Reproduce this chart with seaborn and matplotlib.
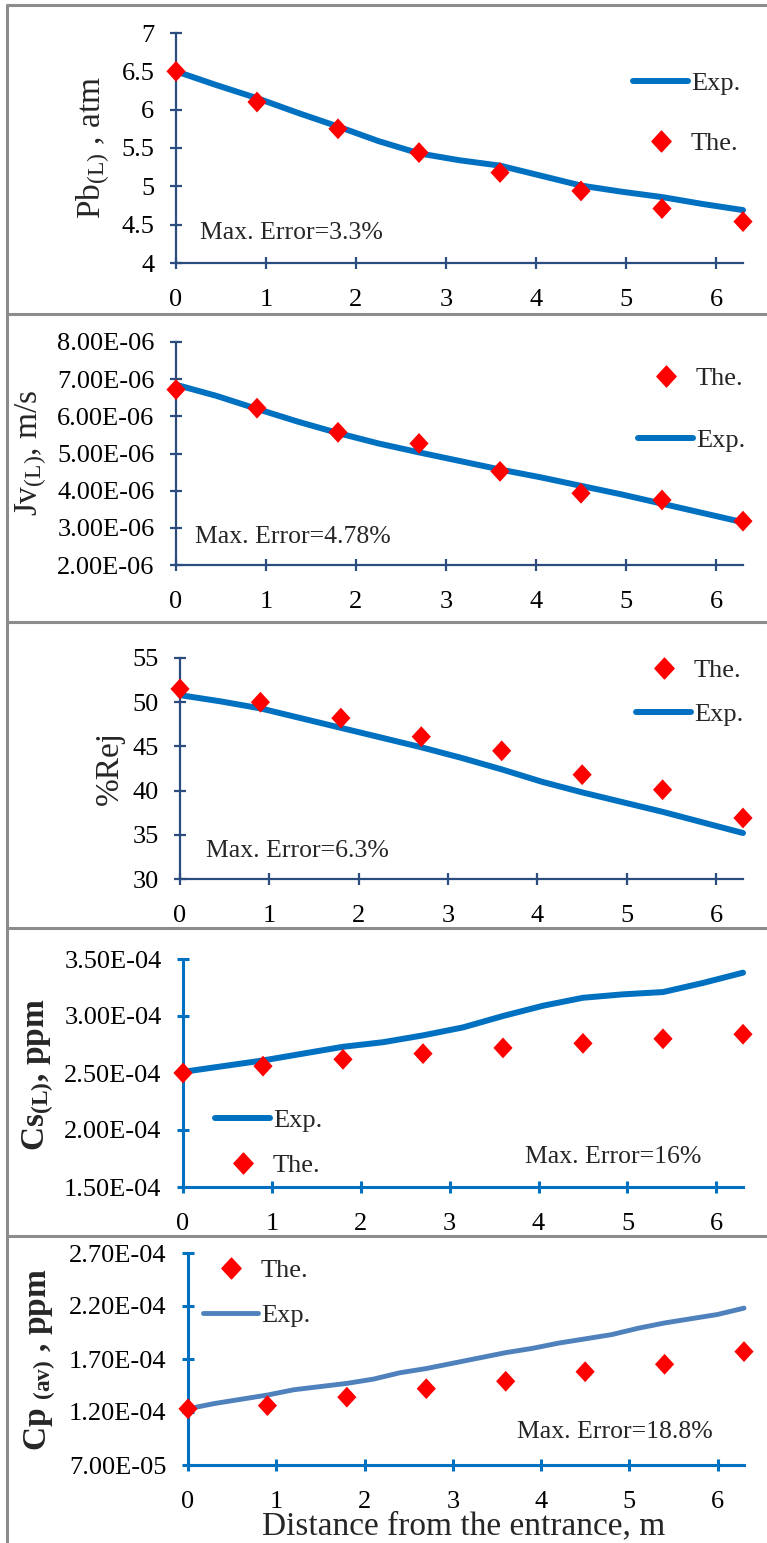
import numpy as np
import pandas as pd
import matplotlib
matplotlib.use("Agg")
import matplotlib.pyplot as plt
import seaborn as sns
from matplotlib.path import Path
from matplotlib.lines import Line2D

# ---------------- data ----------------
x_the = [0, 0.9, 1.8, 2.7, 3.6, 4.5, 5.4, 6.3]
x_exp = [0, 0.45, 0.9, 1.35, 1.8, 2.25, 2.7, 3.15, 3.6, 4.05, 4.5, 4.95, 5.4, 5.85, 6.3]
x_exp_cp = [0, 0.3, 0.6, 0.9, 1.2, 1.5, 1.8, 2.1, 2.4, 2.7, 3.0, 3.3, 3.6, 3.9,
            4.2, 4.5, 4.8, 5.1, 5.4, 5.7, 6.0, 6.3]

pb_exp = [6.50, 6.32, 6.15, 5.96, 5.78, 5.59, 5.43, 5.34, 5.27, 5.14, 5.01, 4.93, 4.86, 4.77, 4.69]
pb_the = [6.50, 6.10, 5.75, 5.44, 5.18, 4.94, 4.71, 4.54]

jv_exp = [6.85e-6, 6.55e-6, 6.20e-6, 5.86e-6, 5.55e-6, 5.27e-6, 5.03e-6, 4.80e-6,
          4.57e-6, 4.36e-6, 4.13e-6, 3.90e-6, 3.65e-6, 3.40e-6, 3.15e-6]
jv_the = [6.72e-6, 6.22e-6, 5.57e-6, 5.27e-6, 4.52e-6, 3.93e-6, 3.75e-6, 3.18e-6]

rej_exp = [50.8, 50.1, 49.3, 48.2, 47.1, 46.0, 44.9, 43.7, 42.4, 41.0, 39.8, 38.7, 37.6, 36.4, 35.2]
rej_the = [51.5, 50.0, 48.2, 46.1, 44.5, 41.8, 40.1, 36.9]

cs_exp = [2.51e-4, 2.56e-4, 2.61e-4, 2.67e-4, 2.73e-4, 2.77e-4, 2.83e-4, 2.90e-4,
          3.00e-4, 3.09e-4, 3.16e-4, 3.19e-4, 3.21e-4, 3.29e-4, 3.38e-4]
cs_the = [2.50e-4, 2.56e-4, 2.62e-4, 2.67e-4, 2.72e-4, 2.76e-4, 2.80e-4, 2.84e-4]

cp_exp = [1.23e-4, 1.28e-4, 1.32e-4, 1.36e-4, 1.41e-4, 1.44e-4, 1.47e-4, 1.51e-4,
          1.57e-4, 1.61e-4, 1.66e-4, 1.71e-4, 1.76e-4, 1.80e-4, 1.85e-4, 1.89e-4,
          1.93e-4, 1.99e-4, 2.04e-4, 2.08e-4, 2.12e-4, 2.18e-4]
cp_the = [1.23e-4, 1.26e-4, 1.34e-4, 1.42e-4, 1.49e-4, 1.58e-4, 1.65e-4, 1.77e-4]

y_labels = [r"Pb$_{\rm (L)}$ , atm", r"Jv$_{\rm (L)}$, m/s", "%Rej",
            r"Cs$_{\mathbf{(L)}}$, ppm", r"Cp $_{\mathbf{(av)}}$ , ppm"]
error_texts = ["Max. Error=3.3%", "Max. Error=4.78%", "Max. Error=6.3%",
               "Max. Error=16%", "Max. Error=18.8%"]
x_ticks = [0, 1, 2, 3, 4, 5, 6]
x_label = "Distance from the entrance, m"

# ---------------- style ----------------
sns.set_style("white")
plt.rcParams["font.family"] = ["Liberation Serif", "DejaVu Serif"]
plt.rcParams["mathtext.fontset"] = "custom"
plt.rcParams["mathtext.rm"] = "Liberation Serif"
plt.rcParams["mathtext.it"] = "Liberation Serif:italic"
plt.rcParams["mathtext.bf"] = "Liberation Serif:bold"

W, H = 767, 1543
fig = plt.figure(figsize=(W / 100, H / 100), dpi=100)

diamond = Path([(0, 1), (0.92, 0), (0, -1), (-0.92, 0), (0, 1)],
               [Path.MOVETO, Path.LINETO, Path.LINETO, Path.LINETO, Path.CLOSEPOLY])

RED = "#FF0000"
NAVY = "#2B4C7E"
BLUE = "#0070C0"
STEEL = "#4F81BD"


def add_ax(l, r, t, b):
    return fig.add_axes([l / W, 1 - b / H, (r - l) / W, (b - t) / H])


panels = [
    dict(box=(176, 743, 33, 263), ylim=(4, 7), yticks=np.arange(4, 7.01, 0.5),
         fmt=lambda v: f"{v:g}", xe=x_exp, ye=pb_exp, yt=pb_the, spine=NAVY, sw=1.6, lc=BLUE, lw=4.3,
         order=("exp", "the"), leg=(633, 72), lspace=1.38, err=(200, 233),
         ylab=(112, 148), bold=False),
    dict(box=(176, 743, 342, 565), ylim=(2e-6, 8e-6), yticks=np.arange(2e-6, 8.01e-6, 1e-6),
         fmt=lambda v: f"{v:.2E}", xe=x_exp, ye=jv_exp, yt=jv_the, spine=NAVY, sw=1.6, lc=BLUE, lw=4.3,
         order=("the", "exp"), leg=(638, 367), lspace=1.45, err=(195, 537),
         ylab=(49, 453), bold=False),
    dict(box=(180, 743, 658, 879), ylim=(30, 55), yticks=np.arange(30, 55.1, 5),
         fmt=lambda v: f"{v:g}", xe=x_exp, ye=rej_exp, yt=rej_the, spine=NAVY, sw=1.6, lc=BLUE, lw=4.3,
         order=("the", "exp"), leg=(636, 659), lspace=0.75, err=(206, 851),
         ylab=(125, 768), bold=False),
    dict(box=(183, 743, 959, 1187), ylim=(1.5e-4, 3.5e-4), yticks=np.arange(1.5e-4, 3.51e-4, 0.5e-4),
         fmt=lambda v: f"{v:.2E}", xe=x_exp, ye=cs_exp, yt=cs_the, spine=BLUE, sw=2.2, lc=BLUE, lw=4.3,
         order=("exp", "the"), leg=(215, 1109), lspace=0.8, err=(525, 1157),
         ylab=(56, 1075), bold=True),
    dict(box=(188, 744, 1253, 1465), ylim=(0.7e-4, 2.7e-4), yticks=np.arange(0.7e-4, 2.71e-4, 0.5e-4),
         fmt=lambda v: f"{v:.2E}", xe=x_exp_cp, ye=cp_exp, yt=cp_the, spine=BLUE, sw=2.2, lc=STEEL, lw=3.5,
         order=("the", "exp"), leg=(203, 1259), lspace=0.8, err=(517, 1432),
         ylab=(58, 1360), bold=True),
]

for i, p in enumerate(panels):
    l, r, t, b = p["box"]
    ax = add_ax(l, r, t, b)
    sns.lineplot(x=p["xe"], y=p["ye"], ax=ax, color=p["lc"], linewidth=p["lw"],
                 legend=False, clip_on=False, zorder=2)
    sns.scatterplot(x=x_the, y=p["yt"], ax=ax, marker=diamond, s=15 ** 2, color=RED,
                    edgecolor="none", linewidth=0, legend=False, clip_on=False, zorder=3)
    ax.set_xlim(0, 6.3)
    ax.set_ylim(*p["ylim"])
    ax.set_xticks(x_ticks)
    ax.set_xticklabels([str(v) for v in x_ticks])
    ax.set_yticks(p["yticks"])
    ax.set_yticklabels([p["fmt"](v) for v in p["yticks"]])
    for s in ["top", "right"]:
        ax.spines[s].set_visible(False)
    for s in ["left", "bottom"]:
        ax.spines[s].set_color(p["spine"])
        ax.spines[s].set_linewidth(p["sw"])
    ax.tick_params(axis="both", which="major", bottom=True, left=True, top=False, right=False,
                   direction="inout", length=9, width=p["sw"], color=p["spine"],
                   labelsize=19, labelcolor="black")
    ax.tick_params(axis="y", pad=11)
    ax.tick_params(axis="x", pad=14)
    ax.set_facecolor("none")
    ax.grid(False)

    # y label
    ax.set_ylabel(y_labels[i], fontsize=24, fontweight="bold" if p["bold"] else "normal")
    lx, ly = p["ylab"]
    ax.yaxis.set_label_coords((lx - l) / (r - l), (b - ly) / (b - t))

    # annotation
    ex, ey = p["err"]
    fig.text(ex / W, 1 - ey / H, error_texts[i], fontsize=18.5, ha="left", va="center")

    # legend
    h_exp = Line2D([], [], color=p["lc"], linewidth=p["lw"])
    h_the = Line2D([], [], color=RED, marker=diamond, markersize=15, linestyle="none")
    hmap = {"exp": (h_exp, "Exp."), "the": (h_the, "The.")}
    handles = [hmap[k][0] for k in p["order"]]
    labels = [hmap[k][1] for k in p["order"]]
    lgx, lgy = p["leg"]
    fig.legend(handles, labels, loc="upper left", bbox_to_anchor=(lgx / W, 1 - lgy / H),
               frameon=False, fontsize=19, handlelength=2.1, handletextpad=0.1,
               labelspacing=p["lspace"], borderpad=0, borderaxespad=0)

    if i == 4:
        ax.set_xlabel(x_label, fontsize=24, labelpad=0)
        ax.xaxis.set_label_coords((464 - l) / (r - l), (b - 1511) / (b - t))

# panel frames
GRAY = "#8C8C8C"
for yy in [5, 314, 622, 928, 1236]:
    fig.add_artist(Line2D([7 / W, 1], [1 - yy / H, 1 - yy / H], transform=fig.transFigure,
                          color=GRAY, linewidth=2.2))
fig.add_artist(Line2D([7 / W, 7 / W], [1 - 5 / H, 0], transform=fig.transFigure,
                      color=GRAY, linewidth=2.2))

fig.savefig("out.png", dpi=100)
